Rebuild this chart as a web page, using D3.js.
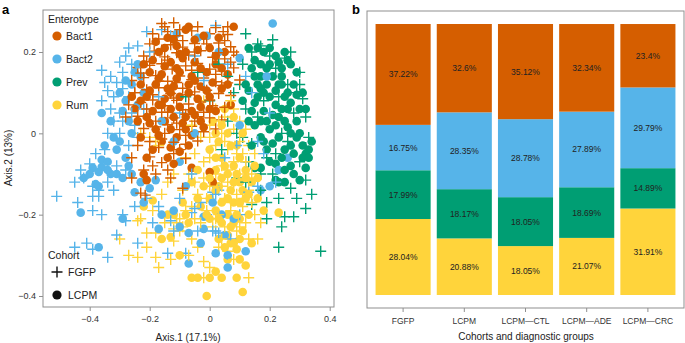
<!DOCTYPE html>
<html>
<head>
<meta charset="utf-8">
<script src="https://cdn.jsdelivr.net/npm/d3@7"></script>
<style>
  body { margin: 0; background: #fff; }
  svg { font-family: "Liberation Sans", Arial, sans-serif; }
</style>
</head>
<body>
<div id="chart"></div>
<script>
// ---- panel a: ordination points [Axis.1, Axis.2] ----
var bact1FGFP = [[-0.16,0.27],[-0.12,0.272],[-0.1,0.255],[0.02,0.26],[0.045,0.25],[0.06,0.243],[-0.14,0.25],[-0.06,0.252],[0.0,0.245],
  [-0.2,0.22],[-0.17,0.232],[-0.13,0.218],[-0.09,0.228],[-0.05,0.221],[-0.02,0.232],[0.03,0.222],[0.07,0.213],
  [-0.22,0.19],[-0.185,0.202],[-0.15,0.188],[-0.11,0.198],[-0.07,0.192],[-0.03,0.203],[0.01,0.187],[0.05,0.183],[0.09,0.192],
  [-0.24,0.162],[-0.2,0.167],[-0.16,0.171],[-0.125,0.158],[-0.08,0.166],[-0.04,0.172],[0.0,0.158],[0.04,0.153],[0.08,0.161],
  [-0.26,0.13],[-0.22,0.137],[-0.18,0.142],[-0.14,0.128],[-0.1,0.141],[-0.06,0.132],[-0.02,0.136],[0.02,0.127],[0.06,0.124],[0.1,0.131],
  [-0.25,0.1],[-0.21,0.107],[-0.17,0.112],[-0.13,0.098],[-0.09,0.111],[-0.05,0.102],[-0.01,0.106],[0.03,0.098],[0.07,0.093],
  [-0.27,0.07],[-0.23,0.076],[-0.19,0.082],[-0.15,0.068],[-0.11,0.081],[-0.07,0.072],[-0.03,0.077],[0.01,0.068],[0.05,0.064],
  [-0.24,0.042],[-0.2,0.046],[-0.16,0.052],[-0.12,0.038],[-0.08,0.047],[-0.04,0.041],[0.0,0.038],[0.04,0.033],
  [-0.22,0.012],[-0.18,0.016],[-0.14,0.021],[-0.1,0.009],[-0.06,0.017],[-0.02,0.004],[0.02,0.011],
  [-0.2,-0.02],[-0.16,-0.014],[-0.12,-0.022],[-0.08,-0.027],[-0.04,-0.019],
  [-0.26,-0.06],[-0.2,-0.058],[-0.16,-0.072],[-0.12,-0.05],[-0.08,-0.062],[-0.22,-0.09],[-0.26,-0.11],[-0.23,-0.147],[-0.215,-0.152],
  [-0.09,-0.135],[-0.18,-0.1],[-0.14,-0.09],
  [-0.19,0.245],[-0.15,0.262],[-0.04,0.262],[0.06,0.262],[-0.11,0.24],[-0.01,0.22],[0.05,0.228],[-0.16,0.205],[-0.09,0.212],
  [-0.05,0.2],[0.03,0.198],[0.07,0.175],[-0.21,0.176],[-0.14,0.18],[-0.06,0.155],[0.02,0.145],[-0.23,0.148],[-0.17,0.128],
  [-0.11,0.125],[-0.04,0.122],[0.04,0.118],[-0.19,0.095],[-0.12,0.087],[-0.07,0.095],[0.0,0.082],[-0.21,0.06],[-0.14,0.052],
  [-0.09,0.058],[-0.02,0.052],[-0.18,0.03],[-0.11,0.025],[-0.05,0.03],[-0.15,0.0],[-0.08,-0.005],[-0.17,-0.035],[-0.1,-0.04],
  [-0.24,-0.03],[-0.19,-0.08],[-0.13,-0.11],[-0.25,0.1],[0.08,0.2],[-0.28,0.04]];
var bact1LCPM = [[-0.08,0.255],[0.08,0.262],[-0.07,0.262],[-0.15,0.21],[-0.11,0.215],[-0.04,0.205],[0.0,0.21],[0.05,0.2],
  [-0.19,0.18],[-0.13,0.175],[-0.09,0.185],[-0.05,0.175],[0.02,0.17],[-0.2,0.15],[-0.16,0.145],[-0.1,0.15],[-0.06,0.14],
  [-0.01,0.15],[0.06,0.145],[-0.23,0.12],[-0.18,0.12],[-0.12,0.115],[-0.07,0.12],[-0.03,0.115],[0.04,0.11],[-0.21,0.09],
  [-0.15,0.085],[-0.1,0.09],[-0.04,0.085],[0.0,0.09],[-0.25,0.06],[-0.19,0.055],[-0.13,0.06],[-0.06,0.055],[0.02,0.055],
  [-0.2,0.025],[-0.15,0.03],[-0.09,0.025],[-0.03,0.03],[-0.23,-0.01],[-0.17,-0.005],[-0.11,-0.01],[-0.06,-0.005],
  [-0.19,-0.04],[-0.13,-0.035],[-0.1,-0.045],[-0.22,-0.1],[-0.21,-0.115],[-0.06,-0.085],[0.01,-0.12],[0.0,-0.095],
  [-0.14,-0.06],[-0.17,0.2],[-0.02,0.24],[-0.12,0.23],[-0.08,0.2],[-0.14,0.11],[-0.08,0.04],[-0.17,0.07],[-0.11,0.16],
  [-0.14,0.235],[-0.05,0.23],[0.03,0.235],[-0.18,0.225],[-0.1,0.195],[0.02,0.19],[-0.22,0.17],[-0.15,0.165],[-0.03,0.16],
  [0.04,0.16],[-0.17,0.135],[-0.11,0.135],[-0.05,0.13],[0.01,0.125],[-0.2,0.105],[-0.13,0.1],[-0.07,0.1],[-0.01,0.105],
  [-0.23,0.08],[-0.16,0.07],[-0.1,0.065],[-0.03,0.065],[-0.21,0.04],[-0.12,0.04],[-0.05,0.045],[0.0,0.06],[-0.18,0.01],
  [-0.13,0.01],[-0.08,0.01],[-0.02,0.015],[-0.16,-0.02],[-0.07,-0.03],[-0.21,-0.06],[-0.12,-0.075],[0.06,0.12],[0.07,0.07],
  [-0.26,0.09],[-0.24,0.03]];
var bact2FGFP = [[-0.16,0.255],[0.02,0.265],[-0.24,0.215],[-0.36,0.155],[-0.35,0.125],[-0.34,0.105],[-0.36,0.08],[-0.31,0.125],
  [-0.3,0.175],[-0.28,0.19],[-0.33,0.06],[-0.3,0.05],[-0.27,0.09],[-0.29,0.03],[-0.25,0.02],[-0.32,0.03],[-0.27,-0.03],[-0.24,-0.01],
  [-0.4,-0.075],[-0.42,-0.11],[-0.39,-0.13],[-0.37,-0.14],[-0.39,-0.155],[-0.37,-0.155],[-0.39,-0.19],[-0.36,-0.2],[-0.29,-0.2],
  [-0.28,-0.215],[-0.41,-0.27],[-0.39,-0.285],[-0.34,-0.305],[-0.24,-0.27],[-0.19,-0.22],[-0.14,-0.295],[-0.08,-0.295],
  [-0.13,-0.215],[-0.12,-0.24],[-0.06,-0.195],[-0.01,-0.2],[-0.51,-0.155],[-0.45,-0.28],[-0.43,-0.09],[-0.35,-0.04],
  [-0.31,-0.08],[-0.34,-0.12],[-0.45,-0.12],[-0.2,0.2],[-0.13,0.24],[-0.05,0.19],[-0.1,0.05],[-0.17,0.09],[-0.02,0.13],
  [-0.22,0.06],[0.06,0.17],[-0.06,-0.1],[0.03,-0.14],[-0.03,-0.17],[0.05,-0.06],[0.09,-0.03],[0.12,-0.07],[-0.1,-0.16],
  [0.02,-0.24],[0.1,-0.2],[-0.04,-0.24],[0.07,-0.26],[0.16,-0.02],[0.2,0.05],[0.12,0.14],[0.01,-0.145],[0.02,-0.15],
  [-0.05,-0.185],[0.13,-0.145],[0.16,-0.13],[0.22,-0.12],[0.01,-0.24],[0.03,-0.245],
  [-0.33,0.14],[-0.29,0.15],[-0.26,0.17],[-0.32,0.09],[-0.29,0.11],[-0.26,0.05],[-0.3,0.0],[-0.34,0.0],[-0.28,-0.09],
  [-0.32,-0.14],[-0.25,-0.18],[-0.21,-0.16],[-0.17,-0.18],[-0.27,0.21],[-0.21,0.25],[-0.38,-0.05],[-0.44,-0.17],[-0.31,-0.25],
  [0.14,0.1],[0.18,-0.05]];
var bact2LCPM = [[0.21,0.27],[-0.11,0.245],[-0.25,0.15],[-0.23,0.14],[-0.26,0.12],[-0.29,0.055],[-0.36,0.05],[-0.33,0.03],
  [-0.26,0.0],[-0.32,-0.01],[-0.3,0.1],[-0.28,0.08],[-0.22,0.1],[-0.24,0.07],[-0.42,-0.11],[-0.39,-0.085],[-0.36,-0.083],
  [-0.37,-0.095],[-0.33,-0.1],[-0.31,-0.1],[-0.36,-0.065],[-0.38,-0.125],[-0.37,-0.13],[-0.28,-0.06],[-0.27,-0.08],
  [-0.23,-0.12],[-0.2,-0.135],[-0.18,-0.115],[-0.43,-0.195],[-0.29,-0.21],[-0.37,-0.28],[-0.17,-0.235],[-0.12,-0.19],
  [-0.07,-0.32],[0.06,-0.33],[-0.02,-0.235],[-0.07,-0.245],[0.02,-0.295],[-0.02,-0.205],[-0.31,-0.04],[-0.34,-0.07],
  [-0.25,-0.145],[-0.04,0.235],[-0.01,0.24],[0.03,0.2],[0.1,0.185],[0.19,0.14],[0.26,-0.06],[0.17,-0.14],[0.2,-0.13],
  [0.23,-0.09],[0.06,-0.3],[0.05,-0.25],[0.04,-0.2],[0.01,-0.17],[-0.08,-0.13],[-0.1,-0.07],[-0.16,0.03],[-0.12,-0.02],
  [-0.28,0.13],[-0.24,0.17],[-0.27,0.03],[-0.3,-0.02],[-0.35,-0.03],[-0.4,-0.1],[-0.34,-0.09],[-0.29,-0.11],[-0.26,-0.1],
  [-0.22,-0.17],[-0.16,-0.2],[-0.1,-0.23],[-0.03,-0.27],[0.08,-0.21],[0.12,-0.29],[-0.05,0.0],[0.1,0.02]];
var prevFGFP = [[0.12,0.245],[0.16,0.22],[0.17,0.215],[0.25,0.185],[0.26,0.12],[0.29,0.1],[0.31,0.085],[0.33,-0.01],
  [0.32,-0.035],[0.22,-0.05],[0.34,-0.15],[0.32,-0.185],[0.28,-0.205],[0.25,-0.205],[0.24,-0.23],[0.19,-0.21],[0.14,-0.175],
  [0.19,-0.17],[0.23,-0.16],[0.27,-0.135],[0.32,-0.115],[0.23,-0.28],[0.37,-0.29],[0.17,-0.1],[0.21,-0.1],[0.09,-0.11],
  [0.03,0.17],[0.06,0.14],[0.08,0.1],[0.0,0.08],[0.06,0.03],[0.11,-0.01],[0.14,-0.025],[0.19,-0.06],[0.2,0.19],[0.14,0.2],
  [0.3,0.15],[0.22,0.16],[0.28,0.05],[0.18,0.08],[0.12,0.06],[0.3,-0.07],[0.24,0.0],[0.1,0.12],[-0.04,0.15],[-0.08,0.09],
  [0.04,-0.04],[0.13,-0.07],
  [0.21,0.23],[0.27,0.2],[0.11,0.17],[0.32,0.04],[0.26,-0.02],[0.16,0.04],[0.09,0.0],[0.29,-0.16],[0.17,-0.14],[0.12,-0.12],
  [0.3,0.12],[0.23,0.09]];
var prevLCPM = [[0.13,0.21],[0.16,0.21],[0.18,0.2],[0.14,0.16],[0.17,0.14],[0.26,0.18],[0.27,0.17],[0.29,0.15],[0.24,0.14],
  [0.19,0.12],[0.22,0.105],[0.32,0.06],[0.29,0.095],[0.25,0.09],[0.27,0.075],[0.15,0.075],[0.18,0.055],[0.23,0.04],[0.25,0.03],
  [0.29,0.03],[0.27,0.0],[0.29,-0.01],[0.27,-0.03],[0.32,-0.05],[0.33,-0.04],[0.21,-0.025],[0.17,-0.01],[0.14,0.055],
  [0.13,0.105],[0.22,-0.115],[0.23,-0.12],[0.25,-0.12],[0.3,-0.115],[0.27,-0.08],[0.31,-0.06],[0.33,-0.06],[0.32,-0.085],
  [0.15,-0.085],[0.17,-0.085],[0.22,-0.075],[0.2,0.17],[0.22,0.19],[0.15,0.18],[0.21,0.14],[0.16,0.12],[0.24,0.12],
  [0.26,0.1],[0.2,0.09],[0.16,0.09],[0.22,0.07],[0.19,0.03],[0.15,0.02],[0.2,0.01],[0.23,-0.01],[0.25,-0.04],[0.19,-0.04],
  [0.28,-0.05],[0.3,0.06],[0.24,0.06],[0.13,0.03],[0.11,0.08],[0.18,-0.02],[0.21,0.045],[0.26,0.06],[0.17,0.17],[0.24,0.16],
  [0.15,0.14],[0.19,0.16],[0.23,0.175],[0.18,0.1],[0.23,0.12],[0.28,0.12],[0.31,0.1],[0.17,0.03],[0.22,0.02],[0.26,0.015],
  [0.3,0.0],[0.31,-0.03],[0.24,-0.06],[0.2,-0.07],[0.28,-0.1],[0.25,-0.09],[0.14,-0.03],[0.12,0.12],[0.2,0.21],[0.25,0.2],
  [0.34,-0.02],[0.17,0.11]];
var rumFGFP = [[-0.23,0.0],[-0.2,-0.01],[-0.18,-0.02],[-0.3,-0.26],[-0.24,-0.305],[-0.18,-0.305],[-0.17,-0.33],[-0.24,-0.215],
  [-0.21,-0.245],[-0.18,-0.245],[-0.12,-0.235],[-0.1,-0.24],[-0.12,-0.265],[-0.06,-0.26],[-0.04,-0.28],[-0.02,-0.315],
  [0.0,-0.33],[0.03,-0.28],[0.06,-0.29],[0.13,-0.26],[0.16,-0.26],[0.13,-0.355],[-0.02,-0.355],[-0.23,-0.21],[-0.19,-0.19],
  [-0.1,-0.21],[-0.09,-0.23],[-0.11,-0.22],[-0.02,0.08],[0.02,0.06],[0.05,0.04],[0.08,0.06],[0.0,0.02],[0.04,0.0],[0.08,0.01],
  [0.1,0.03],[-0.03,-0.01],[0.02,-0.03],[0.06,-0.04],[0.1,-0.02],[0.12,0.01],[-0.05,-0.05],[0.0,-0.06],[0.04,-0.08],
  [0.08,-0.07],[0.11,-0.05],[-0.07,-0.1],[-0.02,-0.11],[0.02,-0.1],[0.06,-0.12],[0.1,-0.1],[0.14,-0.1],[-0.09,-0.14],
  [-0.04,-0.15],[0.0,-0.13],[0.05,-0.16],[0.09,-0.15],[0.13,-0.14],[-0.06,-0.18],[-0.01,-0.19],[0.03,-0.2],[0.07,-0.19],
  [0.11,-0.18],[0.15,-0.2],[-0.03,-0.22],[0.01,-0.23],[0.05,-0.23],[0.09,-0.24],[0.12,-0.22],[-0.08,-0.06],[-0.12,-0.1],
  [-0.14,-0.12],[-0.16,-0.15],[0.15,-0.05],[0.13,-0.03],
  [0.0,-0.01],[0.05,-0.02],[0.09,-0.05],[-0.02,-0.07],[0.06,-0.09],[0.12,-0.07],[-0.05,-0.12],[0.04,-0.13],[0.08,-0.12],
  [0.11,-0.16],[-0.01,-0.16],[0.07,-0.17],[0.02,-0.21],[0.1,-0.23],[-0.05,-0.21],[0.04,-0.26],[-0.08,-0.19],[0.14,-0.17],
  [0.17,-0.22],[-0.15,-0.22],[-0.07,-0.3],[0.08,-0.31],[-0.13,-0.31],[-0.27,-0.3],[-0.21,-0.28],[0.03,0.03],[-0.06,0.02],
  [0.07,0.08],[-0.17,-0.03],[0.13,-0.11]];
var rumLCPM = [[-0.22,-0.18],[-0.19,-0.165],[-0.14,-0.2],[-0.12,-0.2],[-0.16,-0.26],[-0.13,-0.255],[-0.06,-0.355],[-0.04,-0.355],
  [0.0,-0.355],[0.04,-0.355],[0.09,-0.355],[-0.01,-0.4],[0.11,-0.39],[0.06,-0.31],[0.1,-0.31],[0.12,-0.325],[0.07,-0.27],
  [0.09,-0.285],[0.23,-0.195],[0.16,-0.16],[0.03,-0.02],[0.06,0.0],[0.0,-0.04],[0.04,-0.06],[0.08,-0.08],[0.12,-0.09],
  [0.02,-0.09],[0.06,-0.1],[0.1,-0.12],[0.14,-0.12],[-0.02,-0.13],[0.03,-0.13],[0.07,-0.14],[0.11,-0.14],[0.0,-0.16],
  [0.04,-0.17],[0.08,-0.17],[0.12,-0.16],[-0.03,-0.18],[0.02,-0.19],[0.06,-0.2],[0.1,-0.21],[0.0,-0.21],[0.04,-0.22],
  [0.08,-0.22],[0.06,-0.25],[0.03,-0.26],[0.1,-0.26],[-0.06,-0.12],[-0.09,-0.17],[0.01,0.03],[0.09,-0.03],[0.05,0.06],
  [-0.04,-0.09],[0.15,-0.08],[0.13,-0.2],[-0.07,-0.22],[0.11,0.0],
  [0.02,0.0],[0.07,-0.03],[0.1,-0.06],[0.02,-0.06],[0.05,-0.08],[0.09,-0.1],[0.0,-0.11],[0.04,-0.11],[0.08,-0.12],
  [0.12,-0.11],[0.02,-0.14],[0.06,-0.16],[0.1,-0.17],[-0.01,-0.2],[0.03,-0.21],[0.07,-0.23],[0.11,-0.24],[0.05,-0.28],
  [0.09,-0.2],[0.13,-0.15],[-0.04,-0.16],[0.08,-0.27],[0.14,-0.27],[-0.1,-0.3],[0.02,-0.34],[0.16,-0.11],[0.18,-0.19],
  [-0.08,-0.2],[0.04,0.02],[0.08,0.04]];

var enterotypes = ["Bact1", "Bact2", "Prev", "Rum"];
var colors = ["#D55E00", "#56B4E9", "#009E73", "#FFD43B"];
var xTicksA = [-0.4, -0.2, 0, 0.2, 0.4];
var yTicksA = [0.2, 0, -0.2, -0.4];

// ---- panel b: enterotype shares (%) ----
var groups = ["FGFP", "LCPM", "LCPM\u2014CTL", "LCPM\u2014ADE", "LCPM\u2014CRC"];
var shareBact1 = [37.22, 32.6, 35.12, 32.34, 23.4];
var shareBact2 = [16.75, 28.35, 28.78, 27.89, 29.79];
var sharePrev = [17.99, 18.17, 18.05, 18.69, 14.89];
var shareRum = [28.04, 20.88, 18.05, 21.07, 31.91];

var W = 685, H = 343;
var svg = d3.select("#chart").append("svg").attr("width", W).attr("height", H);
var color = d3.scaleOrdinal().domain(enterotypes).range(colors);
var frameCol = "#8f8f8f", txtCol = "#222";

// panel letters
svg.append("text").attr("x", 2).attr("y", 14).attr("font-weight", "bold").attr("font-size", 13).text("a");
svg.append("text").attr("x", 352).attr("y", 14).attr("font-weight", "bold").attr("font-size", 13).text("b");

// ================= panel a =================
var ax = {left: 43, right: 334, top: 10, bottom: 307};
var x = d3.scaleLinear().domain([-0.4, 0.4]).range([89.7, 329.7]);
var y = d3.scaleLinear().domain([-0.4, 0.2]).range([296, 52]);

svg.append("rect").attr("x", ax.left).attr("y", ax.top)
  .attr("width", ax.right - ax.left).attr("height", ax.bottom - ax.top)
  .attr("fill", "none").attr("stroke", frameCol).attr("stroke-width", 1);

var fmt = function(d) { return d === 0 ? "0" : d3.format(".1f")(d); };
var gx = svg.append("g").attr("transform", "translate(0," + ax.bottom + ")")
  .call(d3.axisBottom(x).tickValues(xTicksA).tickSize(4).tickFormat(fmt));
var gy = svg.append("g").attr("transform", "translate(" + ax.left + ",0)")
  .call(d3.axisLeft(y).tickValues(yTicksA).tickSize(4).tickFormat(fmt));
[gx, gy].forEach(function(g) {
  g.select(".domain").remove();
  g.selectAll(".tick line").attr("stroke", frameCol);
  g.selectAll(".tick text").attr("fill", "#333").attr("font-size", 9)
    .attr("font-family", "Liberation Sans, Arial, sans-serif");
});
gx.selectAll(".tick text").attr("dy", "0.9em");

svg.append("text").attr("x", 188).attr("y", 341).attr("text-anchor", "middle")
  .attr("font-size", 10).attr("fill", txtCol).text("Axis.1 (17.1%)");
svg.append("text").attr("transform", "translate(12,158) rotate(-90)").attr("text-anchor", "middle")
  .attr("font-size", 10).attr("fill", txtCol).text("Axis.2 (13%)");

// combine series, interleaved so groups overlap like the original
var series = [
  {d: bact2FGFP, e: "Bact2", c: "FGFP"}, {d: bact2LCPM, e: "Bact2", c: "LCPM"},
  {d: prevFGFP, e: "Prev", c: "FGFP"}, {d: prevLCPM, e: "Prev", c: "LCPM"},
  {d: rumFGFP, e: "Rum", c: "FGFP"}, {d: rumLCPM, e: "Rum", c: "LCPM"},
  {d: bact1FGFP, e: "Bact1", c: "FGFP"}, {d: bact1LCPM, e: "Bact1", c: "LCPM"}
];
var pts = [];
var maxLen = d3.max(series, function(s) { return s.d.length; });
for (var i = 0; i < maxLen; i++) {
  series.forEach(function(s) {
    if (i < s.d.length) pts.push({x: s.d[i][0], y: s.d[i][1], e: s.e, c: s.c});
  });
}

var plot = svg.append("g");
plot.selectAll("g.pt")
  .data(pts)
  .enter()
  .append("g")
  .attr("class", "pt")
  .attr("transform", function(d) { return "translate(" + x(d.x) + "," + y(d.y) + ")"; })
  .each(function(d) {
    var g = d3.select(this);
    if (d.c === "LCPM") {
      g.append("circle").attr("r", 4.3).attr("fill", color(d.e));
    } else {
      g.append("path").attr("d", "M-5.5,0H5.5M0,-5.5V5.5")
        .attr("stroke", color(d.e)).attr("stroke-width", 1.4).attr("fill", "none");
    }
  });

// legends
var leg = svg.append("g").attr("font-size", 10.5).attr("fill", txtCol);
leg.append("text").attr("x", 48).attr("y", 23).text("Enterotype");
enterotypes.forEach(function(e, i) {
  var cy = 36 + i * 23;
  leg.append("circle").attr("cx", 57).attr("cy", cy).attr("r", 4.6).attr("fill", color(e));
  leg.append("text").attr("x", 66).attr("y", cy + 3.8).text(e);
});
leg.append("text").attr("x", 48).attr("y", 259).text("Cohort");
leg.append("path").attr("d", "M51.5,272H62.5M57,266.5V277.5").attr("stroke", "#111").attr("stroke-width", 1.4);
leg.append("text").attr("x", 68).attr("y", 275.8).text("FGFP");
leg.append("circle").attr("cx", 57).attr("cy", 295).attr("r", 4.6).attr("fill", "#111");
leg.append("text").attr("x", 68).attr("y", 298.8).text("LCPM");

// ================= panel b =================
var bx = {left: 367, right: 684, top: 11, bottom: 308};
svg.append("rect").attr("x", bx.left).attr("y", bx.top)
  .attr("width", bx.right - bx.left).attr("height", bx.bottom - bx.top)
  .attr("fill", "none").attr("stroke", frameCol).attr("stroke-width", 1);

var xb = d3.scaleBand().domain(groups).range([372.5, 678.5]).paddingInner(0.1).paddingOuter(0.05);
var yb = d3.scaleLinear().domain([0, 100]).range([295, 24]);

var rows = groups.map(function(g, i) {
  return {group: g, Rum: shareRum[i], Prev: sharePrev[i], Bact2: shareBact2[i], Bact1: shareBact1[i]};
});
var stack = d3.stack().keys(["Rum", "Prev", "Bact2", "Bact1"])(rows);

var layers = svg.append("g").selectAll("g.layer")
  .data(stack)
  .enter()
  .append("g")
  .attr("class", "layer")
  .attr("fill", function(s) { return color(s.key); });

layers.selectAll("rect")
  .data(function(s) { return s; })
  .enter()
  .append("rect")
  .attr("x", function(d) { return xb(d.data.group); })
  .attr("y", function(d) { return yb(d[1]); })
  .attr("width", xb.bandwidth())
  .attr("height", function(d) { return yb(d[0]) - yb(d[1]); });

layers.each(function(s) {
  d3.select(this).selectAll("text")
    .data(s)
    .enter()
    .append("text")
    .attr("x", function(d) { return xb(d.data.group) + xb.bandwidth() / 2; })
    .attr("y", function(d) { return (yb(d[0]) + yb(d[1])) / 2; })
    .attr("dy", "0.35em")
    .attr("text-anchor", "middle")
    .attr("font-size", 8.5)
    .attr("fill", txtCol)
    .text(function(d) { return d.data[s.key] + "%"; });
});

var gxb = svg.append("g").attr("transform", "translate(0," + bx.bottom + ")")
  .call(d3.axisBottom(xb).tickSize(4).tickSizeOuter(0));
gxb.select(".domain").remove();
gxb.selectAll(".tick line").attr("stroke", frameCol);
gxb.selectAll(".tick text").attr("fill", "#333").attr("font-size", 8.5).attr("dy", "1em")
  .attr("font-family", "Liberation Sans, Arial, sans-serif");

svg.append("text").attr("x", 526).attr("y", 340).attr("text-anchor", "middle")
  .attr("font-size", 10).attr("fill", txtCol).text("Cohorts and diagnostic groups");
</script>
</body>
</html>
